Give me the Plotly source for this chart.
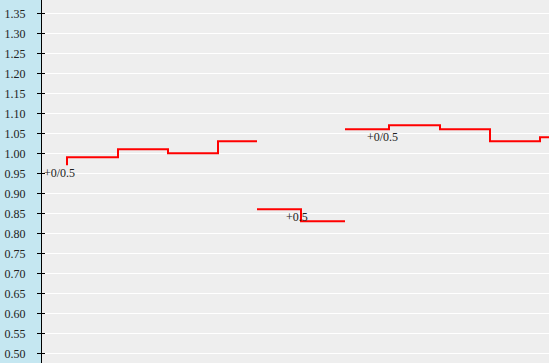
import plotly.graph_objects as go

# Data: time (x) and odds (y) for each handicap segment
seg1_x = [5.0, 5.0, 15.2, 25.2, 35.2, 43.0]
seg1_y = [0.97, 0.99, 1.01, 1.00, 1.03, 1.03]
seg2_x = [43.0, 51.8, 60.6]
seg2_y = [0.86, 0.83, 0.83]
seg3_x = [60.6, 69.4, 79.6, 89.6, 99.6, 102.0]
seg3_y = [1.06, 1.07, 1.06, 1.03, 1.04, 1.04]

label_text = ["+0/0.5", "+0.5", "+0/0.5"]
label_x = [3.4, 50.9, 68.0]
label_y = [0.951, 0.841, 1.041]

tick_vals = [round(0.50 + 0.05 * i, 2) for i in range(18)]
tick_text = [f"{v:.2f}" for v in tick_vals]

X_RANGE = [0, 101.4]
Y_RANGE = [0.4758, 1.3833]

fig = go.Figure()
for xs, ys in [(seg1_x, seg1_y), (seg2_x, seg2_y), (seg3_x, seg3_y)]:
    fig.add_trace(go.Scatter(x=xs, y=ys, mode="lines", line=dict(color="#ff0000", width=2, shape="hv"),
                             hoverinfo="skip", showlegend=False))

# invisible trace for the inner-tick overlay axis
fig.add_trace(go.Scatter(x=[X_RANGE[0]], y=[Y_RANGE[0]], yaxis="y2", mode="markers",
                         marker=dict(opacity=0), showlegend=False, hoverinfo="skip"))

for t, x, y in zip(label_text, label_x, label_y):
    fig.add_annotation(x=x, y=y, text=t, showarrow=False, xanchor="center", yanchor="middle",
                       font=dict(family="Liberation Serif", size=12, color="#222222"))

fig.update_layout(
    width=549, height=363,
    margin=dict(l=42, r=0, t=0, b=0),
    paper_bgcolor="#c5e7f1",
    plot_bgcolor="#eeeeee",
    showlegend=False,
    xaxis=dict(range=X_RANGE, showgrid=False, zeroline=False, showticklabels=False, ticks="",
               showline=False, fixedrange=True),
    yaxis=dict(range=Y_RANGE, tickvals=tick_vals, ticktext=tick_text, showgrid=True, gridcolor="#ffffff",
               gridwidth=1, zeroline=False, showline=True, linecolor="#000000", linewidth=1,
               ticks="outside", ticklen=4, tickcolor="#000000", ticklabelstandoff=9,
               tickfont=dict(family="Liberation Serif", size=12, color="#222222"), fixedrange=True),
    yaxis2=dict(range=Y_RANGE, overlaying="y", side="left", anchor="x", tickvals=tick_vals,
                showticklabels=False, showgrid=False, zeroline=False, showline=False,
                ticks="inside", ticklen=3, tickcolor="#000000", fixedrange=True),
)

fig.write_html("out.html", config={"displayModeBar": False})
